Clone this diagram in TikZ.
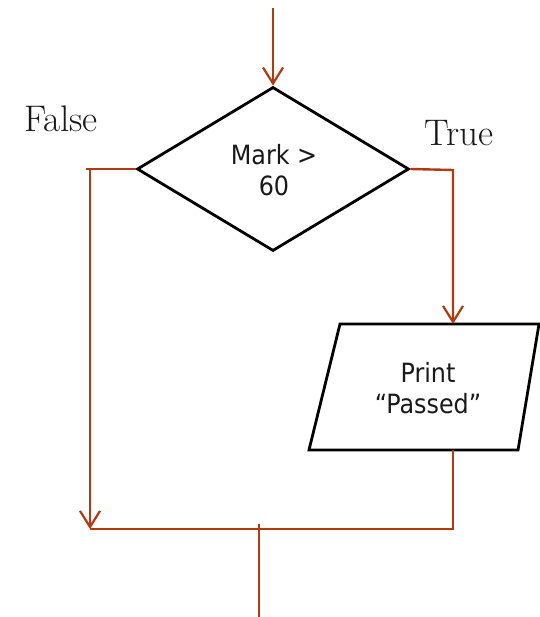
\documentclass[tikz,border=0pt]{standalone}
\usepackage{fontspec}
\setmainfont{Latin Modern Roman}
\newfontfamily\boxfont{DejaVu Sans Condensed}
\usetikzlibrary{shapes.geometric,arrows.meta}
\definecolor{flowred}{RGB}{178,58,14}
\tikzset{
  flow/.style={draw=flowred, line width=2.4pt},
  tip/.style={-{Straight Barb[length=16pt,width=20pt,line width=2.2pt]}},
  boxline/.style={draw=black, line width=2.8pt, line join=miter},
  boxtext/.style={font=\boxfont\fontsize{26.5}{31}\selectfont, align=center, text=black!90},
  branch/.style={font=\fontsize{37}{40}\selectfont, text=black!90}
}
\begin{document}
\begin{tikzpicture}[x=1pt,y=-1pt]
  \useasboundingbox (0,0) rectangle (539,617);

  % decision
  \node[shape=diamond, boxline, inner sep=0pt, minimum width=272pt,
        minimum height=164pt, aspect=1.66] (dec) at (273,169) {};
  \node[boxtext] (cond) at (274,170) {Mark >\\60};

  % output box
  \draw[boxline] (340,324) -- (539,324) -- (518,450) -- (309,450) -- cycle;
  \node[boxtext] (out) at (428,388) {Print\\“Passed”};
  \coordinate (outIn) at (453,324);
  \coordinate (outOut) at (453,450);

  % branch labels
  \node[branch] (lf) at (61,119) {False};
  \node[branch] (lt) at (459,133) {True};

  % entry
  \coordinate (entry) at (273,8);
  \draw[flow,tip] (entry) -- (dec.north);

  % false branch
  \coordinate (fTop) at (90,169);
  \coordinate (fEnd) at (86,169);
  \coordinate (fBot) at (90,529);
  \draw[flow] (dec.west) -- (fEnd);
  \draw[flow,tip] (fTop) -- (fBot);

  % true branch
  \coordinate (tTop) at (453,170);
  \draw[flow,tip] (dec.east) -- (tTop) -- (outIn);

  % join
  \coordinate (jRight) at (453,529);
  \draw[flow] (outOut) -- (jRight) -- (fBot);
  \coordinate (jTop) at (259,524);
  \coordinate (exit) at (259,617);
  \draw[flow] (jTop) -- (exit);
\end{tikzpicture}
\end{document}
